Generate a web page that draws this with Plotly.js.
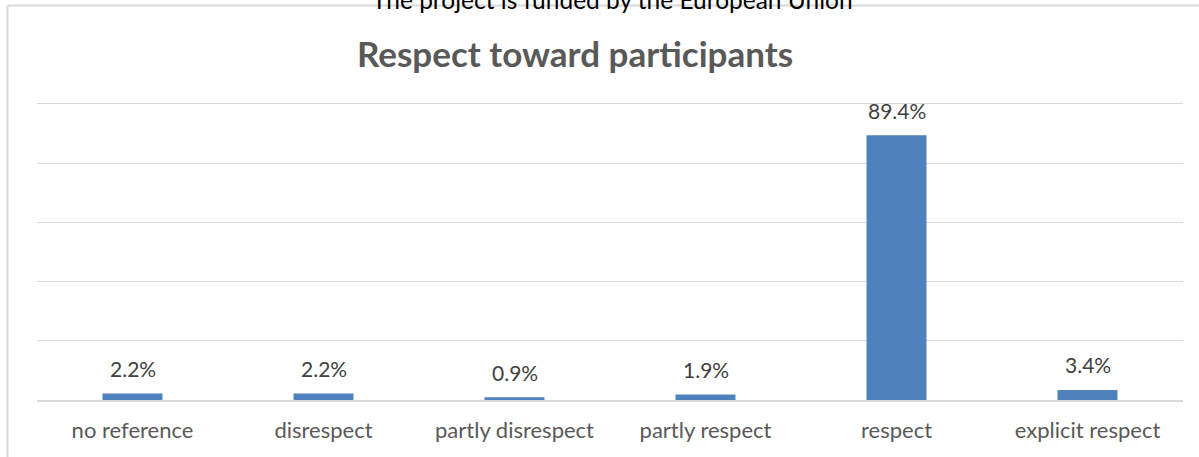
<!DOCTYPE html>
<html>
<head>
<meta charset="utf-8">
<script src="https://cdn.plot.ly/plotly-3.0.1.min.js"></script>
<style>html,body{margin:0;padding:0;background:#fff;}#chart{width:1199px;height:457px;}</style>
</head>
<body>
<div id="chart"></div>
<script>
const categories = ["no reference", "disrespect", "partly disrespect", "partly respect", "respect", "explicit respect"];
const values = [2.2, 2.2, 0.9, 1.9, 89.4, 3.4];
const valueLabels = ["2.2%", "2.2%", "0.9%", "1.9%", "89.4%", "3.4%"];
const chartTitle = "Respect toward participants";
const headerText = "The project is funded by the European Union";

const plotBottom = 400, plotHeight = 299;
const py = Y => (plotBottom - Y) / plotHeight;

const trace = {
  type: "bar",
  x: categories,
  y: values,
  marker: {color: "#4f81bd"},
  hoverinfo: "skip"
};

const annotations = categories.map((c, i) => ({
  x: c, y: values[i], xref: "x", yref: "y",
  text: valueLabels[i], showarrow: false,
  yanchor: "middle", yshift: 25,
  font: {family: "Lato, sans-serif", size: 21, color: "#404040"}
}));
annotations.push({
  x: 0.5, xref: "paper", y: py(16), yref: "paper",
  xanchor: "center", yanchor: "bottom",
  xshift: 2,
  text: headerText, showarrow: false,
  font: {family: "Lato, sans-serif", size: 24.5, color: "#000000"}
});

const layout = {
  width: 1199, height: 457,
  margin: {l: 37, r: 16, t: 101, b: 57, pad: 0},
  paper_bgcolor: "#ffffff", plot_bgcolor: "#ffffff",
  showlegend: false,
  hovermode: false,
  bargap: 0.686,
  title: {
    text: "<b>" + chartTitle + "</b>",
    x: 575 / 1199, xref: "container", xanchor: "center",
    y: 1 - 55 / 457, yref: "container", yanchor: "middle",
    font: {family: "Lato, sans-serif", size: 35, color: "#595959"}
  },
  xaxis: {
    type: "category",
    showline: true, linecolor: "#d9d9d9", linewidth: 1.5,
    showgrid: false, ticks: "",
    ticklabelstandoff: 10,
    tickfont: {family: "Lato, sans-serif", size: 22, color: "#595959"}
  },
  yaxis: {
    range: [0, 101], tickvals: [20, 40, 60, 80, 100],
    showticklabels: false, ticks: "",
    showgrid: true, gridcolor: "#d9d9d9", gridwidth: 1,
    zeroline: false, showline: false
  },
  annotations: annotations,
  shapes: [
    {type: "line", xref: "paper", yref: "paper",
     x0: (7.5 - 37) / 1146, x1: 1.1, y0: py(5.5), y1: py(5.5),
     line: {color: "#d9d9d9", width: 2}},
    {type: "line", xref: "paper", yref: "paper",
     x0: (7.5 - 37) / 1146, x1: (7.5 - 37) / 1146, y0: py(5.5), y1: -0.3,
     line: {color: "#d9d9d9", width: 2}}
  ]
};

Plotly.newPlot("chart", [trace], layout, {displayModeBar: false, staticPlot: true});
</script>
</body>
</html>
